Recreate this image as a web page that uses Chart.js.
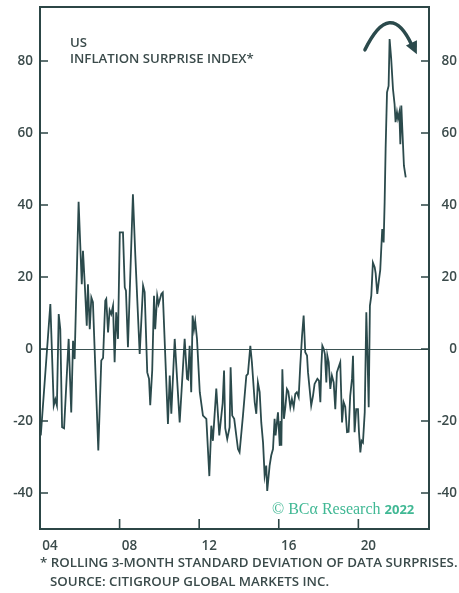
<!DOCTYPE html>
<html>
<head>
<meta charset="utf-8">
<script src="https://cdn.jsdelivr.net/npm/chart.js@4"></script>
<style>
  body { margin: 0; background: #fff; }
  #wrap { position: relative; width: 459px; height: 593px; }
  canvas { position: absolute; left: 0; top: 0; }
  .txt { position: absolute; font-family: "Open Sans", sans-serif; font-weight: 600; color: #3b4b4b; white-space: nowrap; }
  #title { left: 70px; top: 34px; font-size: 13.2px; line-height: 16px; }
  #note { left: 40px; top: 553px; font-size: 13.3px; line-height: 19px; }
  #note .l2 { padding-left: 10px; }
  #mark { left: 272px; top: 500px; font-family: "Liberation Serif", "DejaVu Serif", serif; font-size: 16px; font-weight: 400; color: #40b894; }
  #mark b { font-family: "Open Sans", sans-serif; font-size: 13px; font-weight: 700; }
</style>
</head>
<body>
<div id="wrap">
  <canvas id="myChart" width="459" height="593"></canvas>
  <div class="txt" id="title">US<br>INFLATION SURPRISE INDEX*</div>
  <div class="txt" id="mark">© BCα Research <b>2022</b></div>
  <div class="txt" id="note">* ROLLING 3-MONTH STANDARD DEVIATION OF DATA SURPRISES.<br><span class="l2">SOURCE: CITIGROUP GLOBAL MARKETS INC.</span></div>
</div>
<script>
const AXIS = '#2c4646';
const LINE = '#2b4a4c';
const TEXT = '#3b4b4b';

// decimal year of each reading
const dates = [
  2004.04, 2004.52, 2004.69, 2004.77, 2004.85, 2004.94, 2005.02, 2005.11, 2005.21, 2005.44,
  2005.57, 2005.66, 2005.74, 2005.94, 2006.10, 2006.16, 2006.25, 2006.35, 2006.41, 2006.50,
  2006.58, 2006.66, 2006.93, 2007.08, 2007.17, 2007.28, 2007.33, 2007.42, 2007.50, 2007.58,
  2007.67, 2007.75, 2007.83, 2007.92, 2008.01, 2008.17, 2008.26, 2008.32, 2008.42, 2008.67,
  2008.79, 2009.01, 2009.18, 2009.26, 2009.39, 2009.48, 2009.54, 2009.64, 2009.73, 2009.79,
  2009.89, 2009.96, 2010.10, 2010.17, 2010.43, 2010.52, 2010.60, 2010.77, 2011.02, 2011.27,
  2011.39, 2011.44, 2011.52, 2011.60, 2011.67, 2011.74, 2011.80, 2011.89, 2012.03, 2012.19,
  2012.36, 2012.51, 2012.61, 2012.69, 2012.86, 2013.01, 2013.18, 2013.25, 2013.31, 2013.41,
  2013.53, 2013.58, 2013.66, 2013.76, 2013.95, 2014.03, 2014.20, 2014.37, 2014.45, 2014.57,
  2014.65, 2014.79, 2014.87, 2014.95, 2015.04, 2015.12, 2015.21, 2015.29, 2015.37, 2015.42,
  2015.54, 2015.62, 2015.71, 2015.79, 2015.84, 2015.96, 2016.05, 2016.09, 2016.13, 2016.18,
  2016.26, 2016.33, 2016.41, 2016.48, 2016.58, 2016.66, 2016.75, 2016.83, 2016.91, 2017.00,
  2017.08, 2017.17, 2017.25, 2017.33, 2017.42, 2017.47, 2017.55, 2017.63, 2017.72, 2017.80,
  2017.94, 2018.02, 2018.09, 2018.14, 2018.19, 2018.26, 2018.32, 2018.39, 2018.44, 2018.51,
  2018.59, 2018.67, 2018.76, 2018.84, 2018.92, 2019.01, 2019.09, 2019.18, 2019.26, 2019.34,
  2019.43, 2019.51, 2019.59, 2019.68, 2019.73, 2019.81, 2019.89, 2019.98, 2020.03, 2020.10,
  2020.16, 2020.23, 2020.32, 2020.40, 2020.45, 2020.52, 2020.58, 2020.65, 2020.73, 2020.82,
  2020.87, 2020.95, 2021.04, 2021.10, 2021.15, 2021.20, 2021.27, 2021.32, 2021.37, 2021.44,
  2021.52, 2021.57, 2021.65, 2021.74, 2021.82, 2021.87, 2021.94, 2021.99, 2022.06, 2022.11,
  2022.16, 2022.21, 2022.29, 2022.38
];

const values = [
  -24, 12.5, -15.7, -14, -15.7, 9.7, 5.5, -21.7, -22, 2.8,
  -17.6, 2.3, -2.8, 40.9, 18, 27.3, 18, 6.5, 18, 5.5,
  14.3, 13, -28.2, -3.2, -2.5, 13.4, 13.9, 4.6, 10.8, 9.7,
  12, -3.7, 10.2, 2.8, 32.4, 32.4, 17.1, 16.2, 0.5, 43,
  26, -1.4, 17.6, 15.8, -6.5, -8.3, -15.6, -5.9, 14.8, 5.5,
  14.8, 12.5, 15.3, 15.7, -20.8, -7.4, -18, 2.8, -20.4, 2.8,
  -8.3, -8.5, 0.9, -12, 9.3, 5.5, 7.7, 2.8, -12, -18.5,
  -19.4, -35.3, -21.3, -25.5, -11, -24, -15, -6, -22, -25,
  -21.7, -5.1, -18.5, -19.4, -27.8, -28.7, -18.5, -7.4, -6.9, 0.9,
  -3.7, -14.8, -18, -9.3, -12, -20.4, -26, -35.2, -32.4, -39.4,
  -32.4, -29.6, -27.8, -19.4, -24, -17.6, -26.9, -20, -26.9, -5.6,
  -19.4, -16.2, -11.1, -11.8, -16.2, -13.9, -16.2, -12.5, -12, -13.4,
  -4.6, 3.7, 9.3, -0.9, -1.8, -6.5, -11.1, -15.7, -13, -9.7,
  -8.3, -8.8, -14.8, -4.6, 0.9, 0, -1.5, -9.3, -1.8, -3.7,
  -11.1, -7.4, -9.3, -16.7, -6.5, -5, -3.7, -20.4, -14.8, -16,
  -23.1, -23, -13, -8.3, -1.9, -23.1, -16.7, -16.7, -23, -28.7,
  -25.5, -26, -17.6, 10.2, 0, -16.2, 12, 14.8, 24, 22.7,
  21, 15.3, 19.4, 22, 27.8, 33.3, 29.6, 40.7, 55.6, 71.3,
  73.1, 86.1, 80.6, 72.2, 68, 63, 65.8, 64, 65.8, 56.9,
  67.6, 61, 50.9, 47.7
];

const yTicks = [-40, -20, 0, 20, 40, 60, 80];
const xTicks = [2004, 2008, 2012, 2016, 2020];

// curved arrow over the peak, in data units: start, control, end
const arrowX = [2020.33, 2021.6, 2022.94];
const arrowY = [83.1, 97.5, 81.9];

const tickFont = { family: '"Open Sans", sans-serif', size: 13.5, weight: '600' };

const noPad = s => { s.paddingTop = 0; s.paddingBottom = 0; };

const frame = {
  id: 'frame',
  afterDatasetsDraw(chart) {
    const { ctx, chartArea: a, scales } = chart;
    ctx.save();
    ctx.strokeStyle = AXIS;
    ctx.lineWidth = 2;
    ctx.strokeRect(a.left, a.top, a.right - a.left, a.bottom - a.top);
    ctx.lineWidth = 1.6;
    ctx.beginPath();
    yTicks.forEach(v => {
      const py = scales.y.getPixelForValue(v);
      ctx.moveTo(a.left, py); ctx.lineTo(a.left + 8, py);
      ctx.moveTo(a.right, py); ctx.lineTo(a.right - 8, py);
    });
    xTicks.forEach(v => {
      const px = scales.x.getPixelForValue(v);
      ctx.moveTo(px, a.bottom); ctx.lineTo(px, a.bottom - 10);
    });
    ctx.stroke();

    // arrow
    const p = arrowX.map((v, i) => [scales.x.getPixelForValue(v), scales.y.getPixelForValue(arrowY[i])]);
    ctx.strokeStyle = LINE;
    ctx.fillStyle = LINE;
    ctx.lineWidth = 3.5;
    ctx.lineCap = 'round';
    ctx.beginPath();
    ctx.moveTo(p[0][0], p[0][1]);
    ctx.quadraticCurveTo(p[1][0], p[1][1], p[2][0] - 5, p[2][1] - 9);
    ctx.stroke();
    const ang = Math.atan2(p[2][1] - p[1][1], p[2][0] - p[1][0]);
    ctx.beginPath();
    ctx.moveTo(p[2][0], p[2][1]);
    ctx.lineTo(p[2][0] - 14 * Math.cos(ang - 0.45), p[2][1] - 14 * Math.sin(ang - 0.45));
    ctx.lineTo(p[2][0] - 14 * Math.cos(ang + 0.45), p[2][1] - 14 * Math.sin(ang + 0.45));
    ctx.closePath();
    ctx.fill();
    ctx.restore();
  }
};

new Chart(document.getElementById('myChart'), {
  type: 'line',
  data: {
    datasets: [{
      data: dates.map((d, i) => ({ x: d, y: values[i] })),
      borderColor: LINE,
      borderWidth: 1.8,
      pointRadius: 0,
      tension: 0,
      fill: false
    }]
  },
  options: {
    responsive: false,
    animation: false,
    layout: { padding: { top: 7, left: 0, right: 2, bottom: 0 } },
    plugins: { legend: { display: false }, tooltip: { enabled: false } },
    scales: {
      x: {
        type: 'linear',
        min: 2004,
        max: 2023.55,
        afterBuildTicks: s => { s.ticks = xTicks.map(v => ({ value: v })); },
        afterFit: s => { s.height = 64; s.paddingLeft = 0; s.paddingRight = 0; },
        ticks: {
          callback: v => String(v % 100).padStart(2, '0'),
          labelOffset: 10,
          padding: 1,
          color: TEXT,
          font: tickFont,
          maxRotation: 0
        },
        grid: { display: false },
        border: { display: false }
      },
      y: {
        position: 'left',
        min: -50,
        max: 95,
        afterBuildTicks: s => { s.ticks = yTicks.map(v => ({ value: v })); },
        afterFit: s => { s.width = 40; noPad(s); },
        ticks: { padding: 7, color: TEXT, font: tickFont },
        grid: {
          drawTicks: false,
          color: c => (c.tick && c.tick.value === 0 ? '#3b5252' : 'rgba(0,0,0,0)'),
          lineWidth: 1
        },
        border: { display: false }
      },
      y2: {
        position: 'right',
        min: -50,
        max: 95,
        afterBuildTicks: s => { s.ticks = yTicks.map(v => ({ value: v })); },
        afterFit: s => { s.width = 28; noPad(s); },
        ticks: { padding: 4, crossAlign: 'far', color: TEXT, font: tickFont },
        grid: { display: false },
        border: { display: false }
      }
    }
  },
  plugins: [frame]
});
</script>
</body>
</html>
